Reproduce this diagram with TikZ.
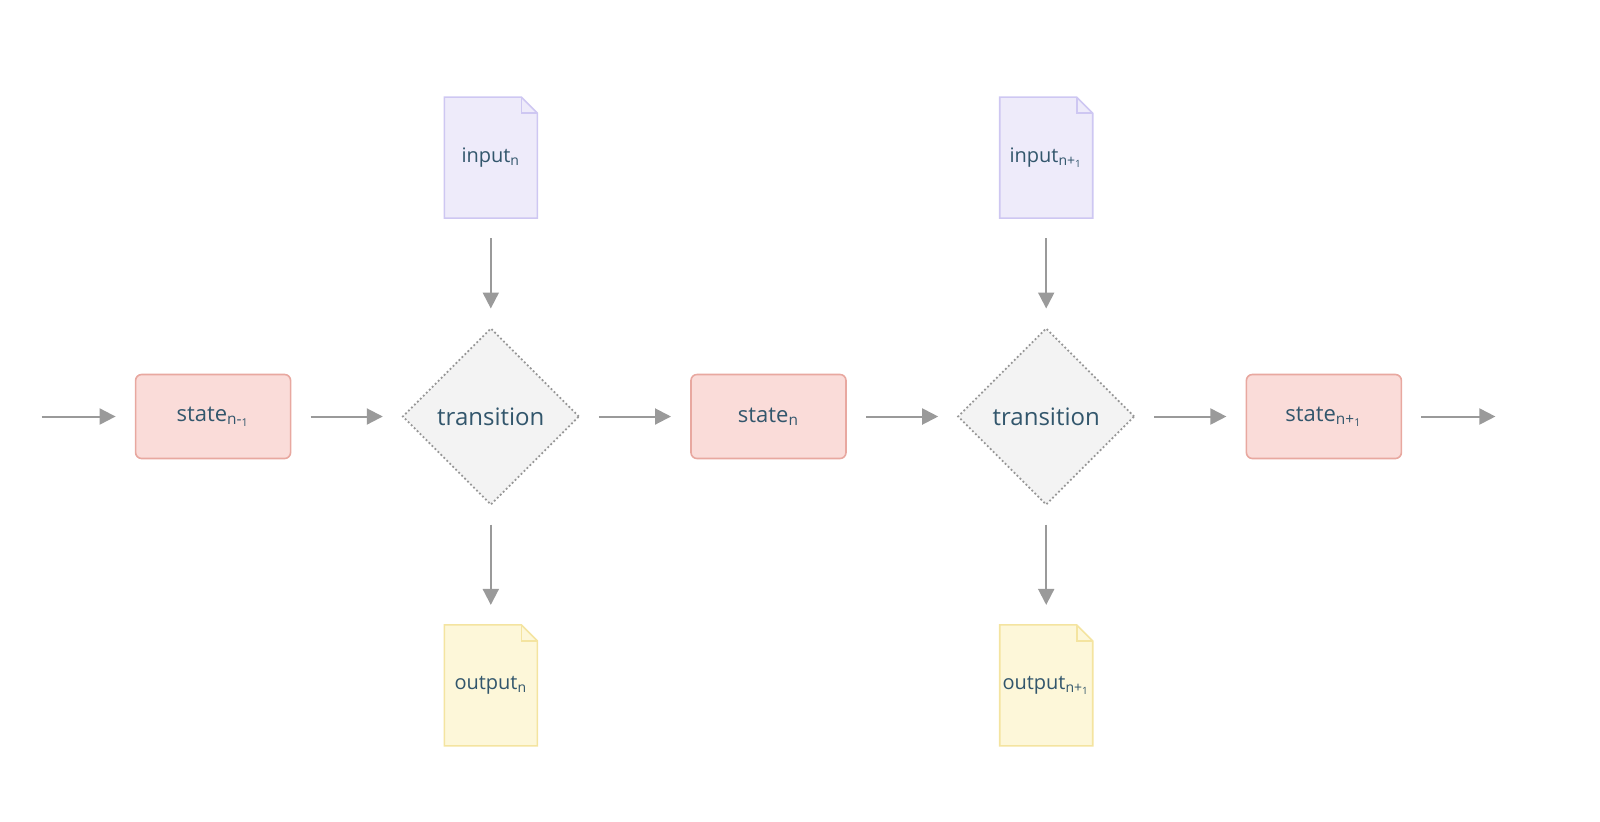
\documentclass[tikz,border=0pt]{standalone}
\usepackage{fontspec}
\setmainfont{Open Sans}
\usetikzlibrary{matrix,positioning,shapes.geometric,arrows.meta,backgrounds}

\definecolor{labeltext}{RGB}{50,86,108}
\definecolor{statefill}{RGB}{250,220,217}
\definecolor{stateline}{RGB}{232,168,160}
\definecolor{transfill}{RGB}{243,243,243}
\definecolor{transline}{RGB}{150,150,150}
\definecolor{fillinput}{RGB}{238,235,250}
\definecolor{lineinput}{RGB}{206,199,242}
\definecolor{filloutput}{RGB}{253,247,217}
\definecolor{lineoutput}{RGB}{244,228,160}
\definecolor{arrowgray}{RGB}{154,154,154}

\newcommand{\idx}[1]{\textsubscript{#1}}

\begin{document}
\begin{tikzpicture}[
     % define styles
     state/.style={
         draw=stateline,
         fill=statefill,
         rounded corners=3pt,
         line width=0.8pt,
         minimum width=77.5pt,
         minimum height=42pt,
         font=\fontsize{11}{13}\selectfont
     },
     trans/.style={
         diamond,
         aspect=1,
         draw=transline,
         fill=transfill,
         dash pattern=on 0.9pt off 1.2pt,
         line width=0.9pt,
         minimum size=88pt,
         inner sep=0pt,
         font=\fontsize{12}{14}\selectfont
     },
     doc/.style={
         minimum width=46.5pt,
         minimum height=60.5pt,
         inner sep=0pt,
         font=\fontsize{10}{12}\selectfont
     },
     net/.style={
         matrix of nodes,
         nodes={anchor=center, text=labeltext, outer sep=0pt},
         column sep=55.25pt,
         row sep=54.75pt
     },
     flow/.style={
         ->,
         draw=arrowgray,
         line width=1pt,
         shorten >=10pt,
         shorten <=10pt
     },
     >={Triangle[length=8pt,width=8pt]}
]
\useasboundingbox (0,0) rectangle (800pt,-410.5pt);

% define matrix mat to hold the chain
\matrix[net] (mat) at (384.25pt,-210.75pt)
{
          & |[doc]| input\idx{n}         &                     & |[doc]| input\idx{n+\idx{1}}   & \\
|[state]| state\idx{n-\idx{1}} & |[trans]| transition & |[state]| state\idx{n} & |[trans]| transition & |[state]| state\idx{n+\idx{1}} \\[5pt]
          & |[doc]| output\idx{n}        &                     & |[doc]| output\idx{n+\idx{1}}  & \\
};

% paper sheets behind the input and output texts
\begin{scope}[on background layer]
\foreach \nd/\kind in {mat-1-2/input, mat-1-4/input, mat-3-2/output, mat-3-4/output} {
    \filldraw[fill=fill\kind, draw=line\kind, line width=0.8pt]
        (\nd.south west) -- (\nd.north west) -- ([xshift=-8pt]\nd.north east)
        -- ([yshift=-8pt]\nd.north east) -- (\nd.south east) -- cycle;
    \draw[line\kind, line width=0.8pt]
        ([xshift=-8pt]\nd.north east) |- ([yshift=-8pt]\nd.north east);
}
\end{scope}

% free ends
\coordinate[left=57pt of mat-2-1.west] (in);
\coordinate[right=57pt of mat-2-5.east] (out);

% chain
\draw[flow] (in) -- (mat-2-1);
\draw[flow] (mat-2-1) -- (mat-2-2);
\draw[flow] (mat-2-2) -- (mat-2-3);
\draw[flow] (mat-2-3) -- (mat-2-4);
\draw[flow] (mat-2-4) -- (mat-2-5);
\draw[flow] (mat-2-5) -- (out);

% inputs and outputs
\draw[flow] (mat-1-2) -- (mat-2-2);
\draw[flow] (mat-2-2) -- (mat-3-2);
\draw[flow] (mat-1-4) -- (mat-2-4);
\draw[flow] (mat-2-4) -- (mat-3-4);

\end{tikzpicture}
\end{document}
